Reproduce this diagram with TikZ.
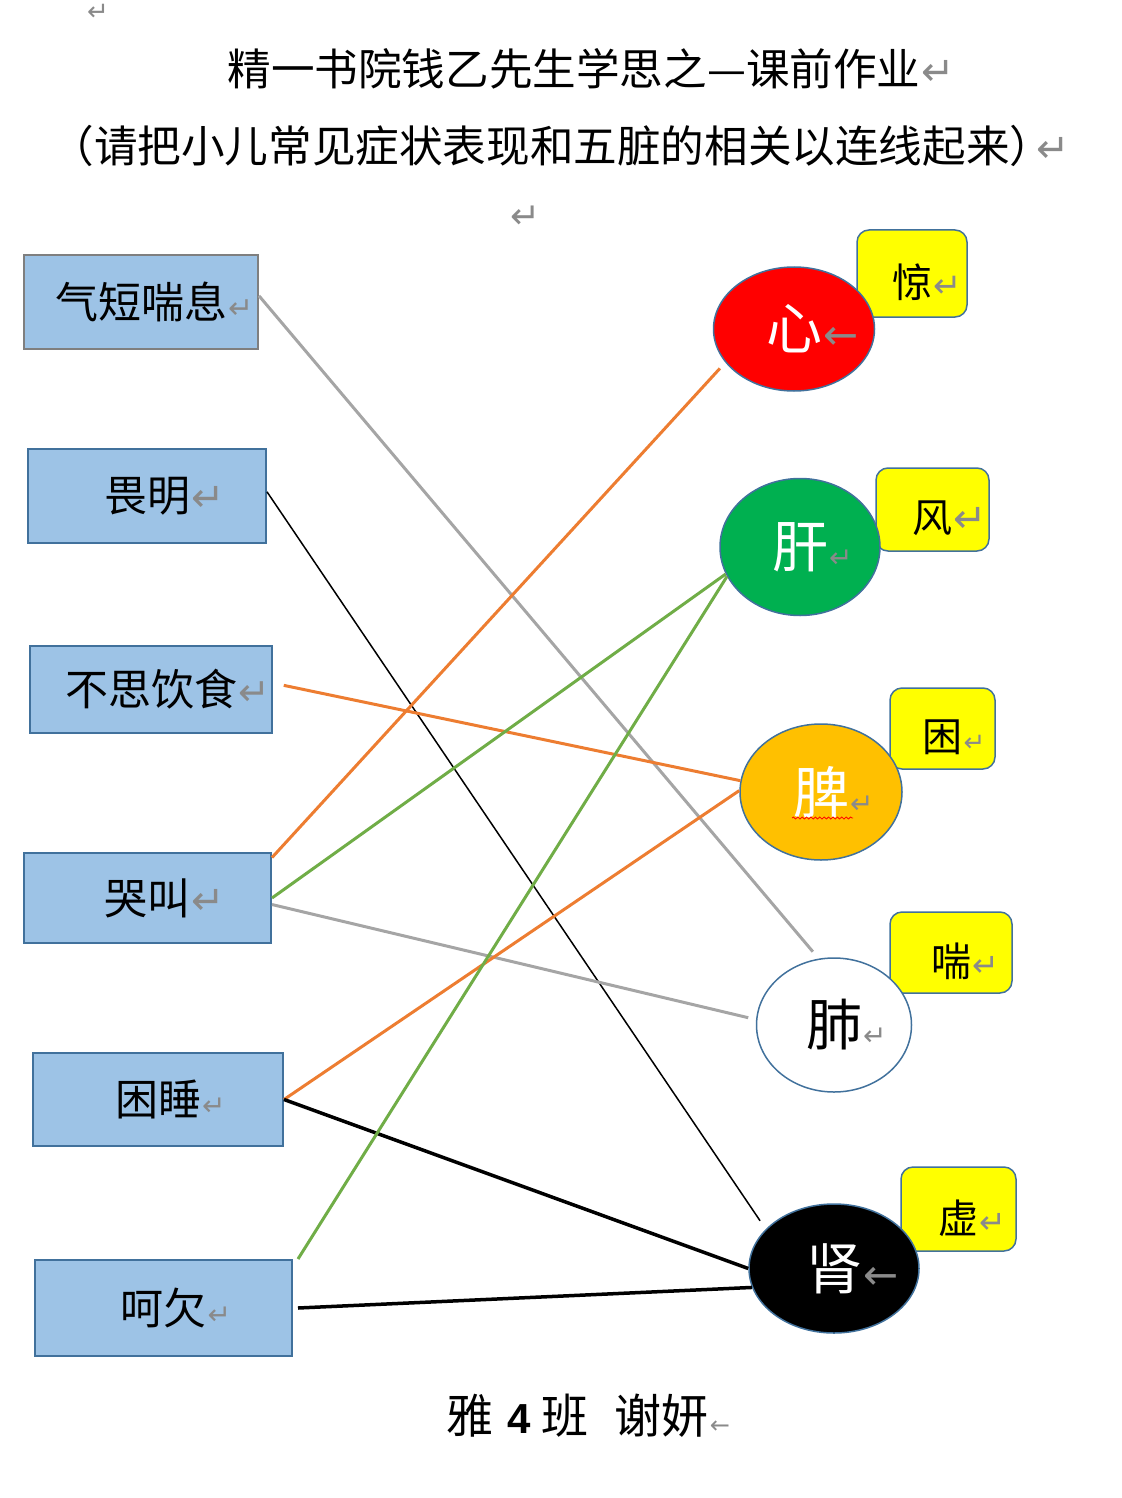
\documentclass[tikz,border=0pt]{standalone}
\usepackage{fontspec}
\usepackage{xcolor}
\usepackage{tikz}
\usetikzlibrary{shapes.geometric, decorations.pathmorphing}
\setmainfont{Noto Sans CJK SC}
\newfontfamily\dejavu{DejaVu Sans}
\newfontfamily\digits{Liberation Sans}

\definecolor{boxblue}{HTML}{9DC3E6}
\definecolor{borderblue}{HTML}{41719C}
\definecolor{boxgray}{HTML}{7F7F7F}
\definecolor{markgray}{HTML}{8A8A8A}
\definecolor{linegray}{HTML}{A5A5A5}
\definecolor{lineorange}{HTML}{ED7D31}
\definecolor{linegreen}{HTML}{70AD47}
\definecolor{xinred}{HTML}{FF0000}
\definecolor{gangreen}{HTML}{00B050}
\definecolor{pigold}{HTML}{FFC000}
\definecolor{signyellow}{HTML}{FFFF00}

\newcommand{\fsz}[1]{\fontsize{#1}{#1}\selectfont}
\newcommand{\ret}[1]{\rlap{\hspace{0.5pt}\dejavu\fsz{#1}\textcolor{markgray}{↵}}}
\newcommand{\larr}[1]{\rlap{\hspace{0.5pt}\dejavu\fsz{#1}\textcolor{markgray}{←}}}

\begin{document}
\begin{tikzpicture}[x=0.5pt, y=-0.5pt,
    symptom/.style={rectangle, fill=boxblue, line width=1pt, inner sep=0pt, font=\fsz{21.5pt}},
    organ/.style={ellipse, draw=borderblue, line width=0.75pt, inner sep=0pt, font=\fsz{28pt}},
    signbox/.style={rectangle, rounded corners=6pt, draw=borderblue, fill=signyellow, line width=0.75pt, inner sep=0pt, font=\fsz{20pt}},
    link/.style={line width=1.5pt}]
    \useasboundingbox (0,0) rectangle (1121,1498);

    % heading
    \node[inner sep=0pt, font=\fsz{21.8pt}] (title) at (574,69) {精一书院钱乙先生学思之—课前作业\ret{20pt}};
    \node[inner sep=0pt, font=\fsz{21.8pt}] (subtitle) at (543,146)
        {（请把小儿常见症状表现和五脏的相关以连线起来{\addfontfeatures{RawFeature=+halt}）}\hspace{2pt}\ret{20pt}};
    \node[inner sep=0pt] (topmark) at (86,12) {\ret{13pt}};
    \node[inner sep=0pt] (midmark) at (509,217) {\ret{18pt}};

    % yellow signs
    \foreach \nm/\x/\y/\w/\h/\txt/\m in {
        jing/912/273.5/110/87/惊/17pt,
        feng/932.5/509.5/113/83/风/20pt,
        kun/942.5/728.5/105/81/困/13pt,
        chuan/951/952.5/122/81/喘/16pt,
        xu/958.5/1209/115/84/虚/16pt}
    {
        \node[signbox, minimum width=\w*0.5pt, minimum height=\h*0.5pt] (\nm) at (\x,\y)
            {\raisebox{-4.5pt}[\height][\depth]{\txt\ret{\m}}};
    }

    % symptoms
    \foreach \nm/\x/\y/\w/\h/\txt/\m/\co in {
        qiduan/141/302/234/94/气短喘息/15pt/boxgray,
        weiming/147/496/238/94/畏明/20pt/borderblue,
        busi/151/689.5/242/87/不思饮食/19pt/borderblue,
        kujiao/147.5/898/247/90/哭叫/20pt/borderblue,
        kunshui/158/1099.5/250/93/困睡/14pt/borderblue,
        heqian/163.5/1308/257/96/呵欠/14pt/borderblue}
    {
        \node[symptom, draw=\co, minimum width=\w*0.5pt, minimum height=\h*0.5pt] (\nm) at (\x,\y) {\txt\ret{\m}};
    }

    % organs
    \foreach \nm/\x/\y/\w/\h/\fc/\tc/\txt/\mk in {
        xin/794/329/161/124/xinred/white/心/\larr{21pt},
        gan/800/547/160/137/gangreen/white/肝/\ret{14pt},
        pi/821/792/162/136/pigold/white/脾/\ret{14pt},
        fei/834/1025/155/134/white/black/肺/\ret{14pt},
        shen/834/1268.5/170/129/black/white/肾/\larr{21pt}}
    {
        \node[organ, fill=\fc, text=\tc, minimum width=\w*0.5pt, minimum height=\h*0.5pt] (\nm) at (\x,\y) {\txt\mk};
    }
    \draw[red, line width=0.4pt, decorate, decoration={snake, amplitude=0.5pt, segment length=2.2pt}]
        ([xshift=-14.5pt, yshift=-13pt]pi.center) -- ([xshift=16pt, yshift=-13pt]pi.center);

    % links
    \draw[link, linegray, shorten >=4.5pt] (qiduan.3) -- (fei.103);
    \draw[black, line width=0.75pt, shorten >=5pt] (weiming.2) -- (shen.150);
    \draw[link, lineorange, shorten <=5.5pt] (busi.3) -- (pi.172);
    \draw[link, lineorange, shorten >=4pt] (kujiao.18) -- (xin.206);
    \draw[link, linegreen] (kujiao.east) -- (gan.200);
    \draw[link, linegray, shorten >=4pt] (kujiao.-3) -- (fei.176);
    \draw[link, lineorange] (kunshui.east) -- (pi.179);
    \draw[black, line width=1.75pt] (kunshui.east) -- (shen.180);
    \draw[link, linegreen] ([xshift=2.5pt]heqian.north east) -- (gan.202);
    \draw[black, line width=1.75pt] ([xshift=2.5pt]heqian.east) -- (shen.193);

    % signature
    \node[anchor=west, inner sep=0pt, font=\fsz{23.5pt}] (author) at (446,1416)
        {雅\hspace{7pt}{\digits\bfseries\fsz{21pt}4}\hspace{5.5pt}班\hspace{13pt}谢妍\larr{12pt}};
\end{tikzpicture}
\end{document}
